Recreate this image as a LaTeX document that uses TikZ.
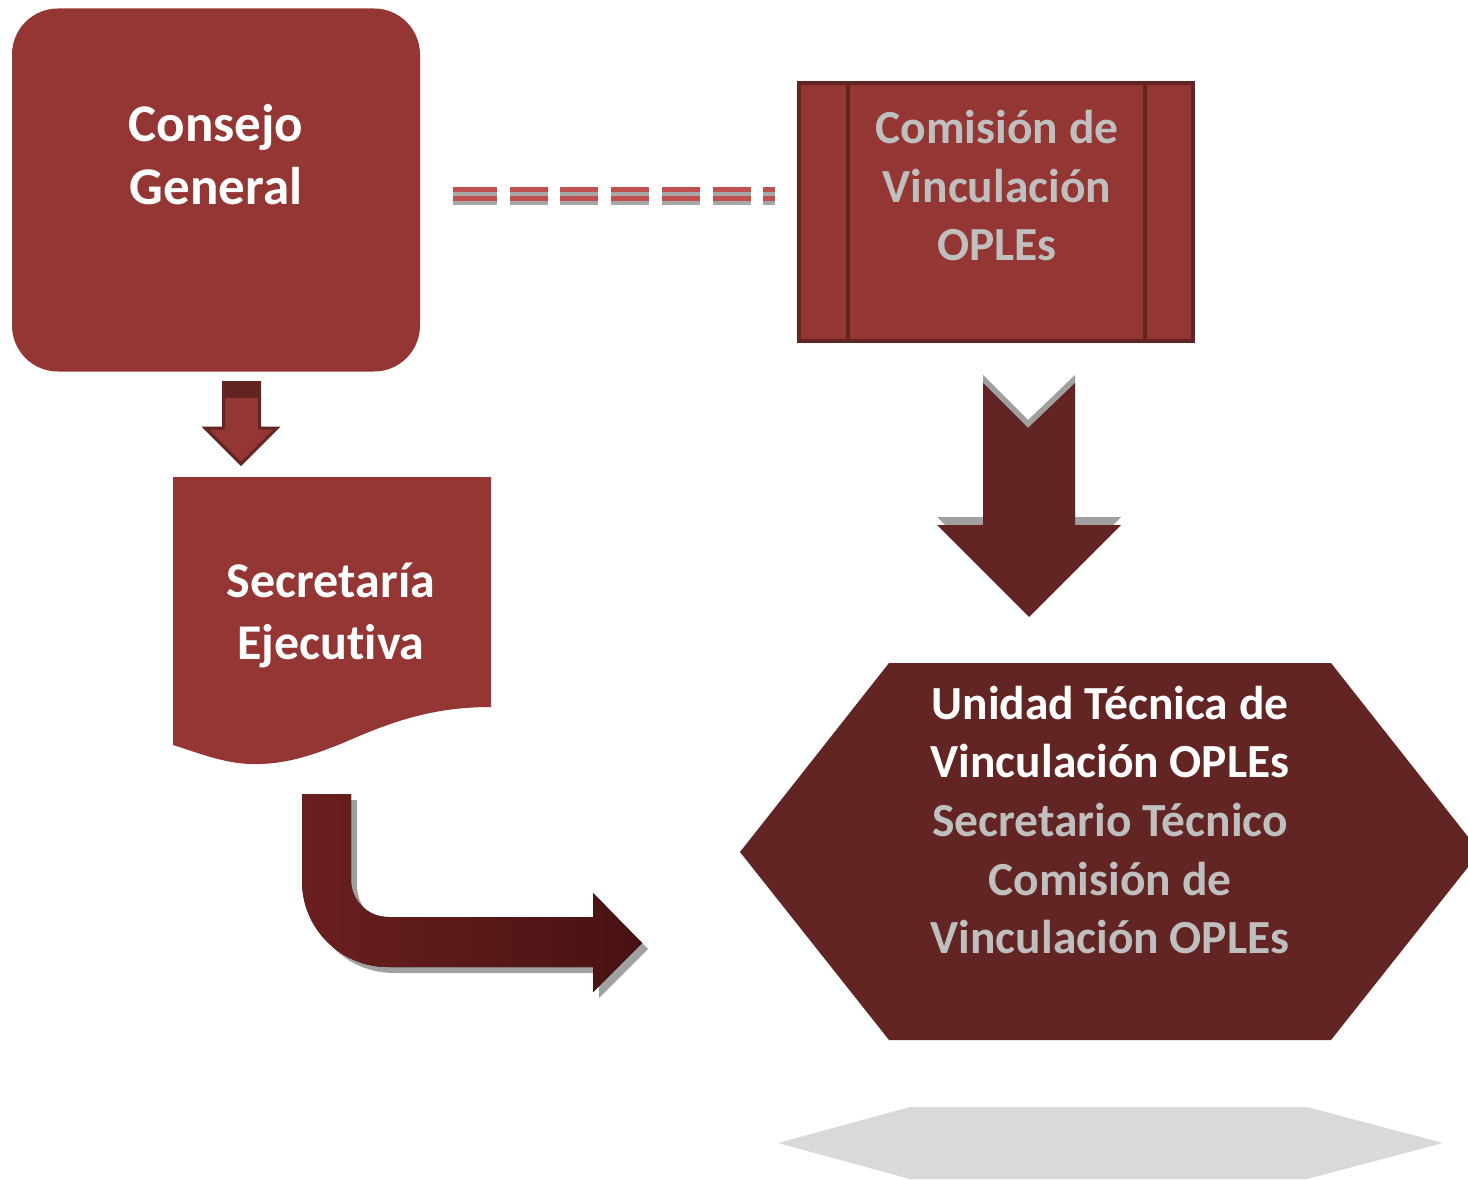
\documentclass[tikz,border=0pt]{standalone}
\usepackage{fontspec}
\setmainfont{Carlito}[Ligatures=NoCommon]
\definecolor{redA}{HTML}{943634}
\definecolor{darkA}{HTML}{632523}
\definecolor{txtgray}{HTML}{BFBFBF}
\definecolor{dashred}{HTML}{C0504D}
\definecolor{dashgray}{HTML}{A6A6A6}
\definecolor{shadowgray}{HTML}{A0A0A0}
\definecolor{reflgray}{HTML}{D9D9D9}
\definecolor{bentL}{RGB}{106,31,31}
\definecolor{bentR}{RGB}{72,18,18}
\begin{document}
\begin{tikzpicture}[x=1pt,y=-1pt,
  txtA/.style={align=center,text=white,font=\fontsize{53}{63}\selectfont\bfseries,inner sep=0pt},
  txtB/.style={align=center,text=white,font=\fontsize{50}{62}\selectfont\bfseries,inner sep=0pt},
  txtC/.style={align=center,font=\fontsize{47.5}{58.5}\selectfont\bfseries,inner sep=0pt},
  stripe/.style={line width=4.4pt,dash pattern=on 44pt off 13pt on 38pt off 12pt on 38pt off 13pt on 38pt off 13pt on 38pt off 13pt on 38pt off 12pt on 12pt off 200pt},
]
\useasboundingbox (0,0) rectangle (1468,1180);
\clip (0,0) rectangle (1468,1180);
\fill[white] (0,0) rectangle (1468,1180);

% Consejo General
\node[draw=none,fill=redA,rounded corners=46pt,minimum width=408pt,minimum height=363pt,inner sep=0pt] (consejo) at (216,190) {};
\node[txtA] (consejotxt) at (216,155) {Consejo\\General};

% dashed double connector
\coordinate (dashA) at (453,0);
\coordinate (dashB) at (776,0);
\draw[stripe,dashred] ([yshift=-189.5pt]dashA) -- ([yshift=-189.5pt]dashB);
\draw[stripe,dashgray] ([yshift=-194pt]dashA) -- ([yshift=-194pt]dashB);
\draw[stripe,dashred] ([yshift=-198.5pt]dashA) -- ([yshift=-198.5pt]dashB);
\draw[stripe,dashgray] ([yshift=-203pt]dashA) -- ([yshift=-203pt]dashB);

% Comision box
\node[fill=redA,draw=darkA,line width=4.5pt,minimum width=394pt,minimum height=258pt,inner sep=0pt] (comision) at (996,212) {};
\draw[darkA,line width=4.5pt] (848,83) -- (848,341);
\draw[darkA,line width=4.5pt] (1145,83) -- (1145,341);
\node[txtC,text=txtgray] (comisiontxt) at (997,186) {Comisión de\\Vinculación\\OPLEs};

% small down arrow
\filldraw[fill=redA,draw=darkA,line width=3pt,line join=miter]
  (223.5,382.5) -- (259.5,382.5) -- (259.5,428) -- (277,428) -- (241,464) -- (205,428) -- (223.5,428) -- cycle;
\fill[darkA] (222,381) rectangle (261,398);

% Secretaria document shape
\fill[redA] (173,477) -- (491,477) -- (491,707)
  .. controls (440,707) and (400,718) .. (350,740)
  .. controls (310,757) and (282,765) .. (250,764)
  .. controls (222,763) and (196,752) .. (173,745) -- cycle;
\node[txtB] (secretariatxt) at (331,615) {Secretaría\\Ejecutiva};

% big down arrow with shadow
\fill[shadowgray] (983,375) -- (1028,420) -- (1075,375) -- (1075,517) -- (1121,517) -- (1029,609) -- (937,517) -- (983,517) -- cycle;
\fill[darkA] (983,383) -- (1028,428) -- (1075,383) -- (1075,525) -- (1121,525) -- (1029,617) -- (937,525) -- (983,525) -- cycle;

% bent arrow with shadow
\begin{scope}[shift={(6,6)}]
\fill[shadowgray] (302,794) -- (351,794) -- (351,880)
  .. controls (351,900.4) and (367.6,917) .. (388,917)
  -- (593,917) -- (593,893) -- (642,943) -- (593,992) -- (593,967) -- (388,967)
  .. controls (340.5,967) and (302,928.5) .. (302,881) -- cycle;
\end{scope}
\fill[left color=bentL,right color=bentR] (302,794) -- (351,794) -- (351,880)
  .. controls (351,900.4) and (367.6,917) .. (388,917)
  -- (593,917) -- (593,893) -- (642,943) -- (593,992) -- (593,967) -- (388,967)
  .. controls (340.5,967) and (302,928.5) .. (302,881) -- cycle;

% hexagon
\fill[darkA] (740,852) -- (889,663) -- (1331,663) -- (1480,852) -- (1331,1040) -- (889,1040) -- cycle;
\node[txtC,text=white] (unidadtxt) at (1110,732) {Unidad Técnica de\\Vinculación OPLEs};
\node[txtC,text=txtgray] (secretariotxt) at (1110,879) {Secretario Técnico\\Comisión de\\Vinculación OPLEs};

% reflection
\fill[reflgray] (778,1143) -- (910,1107) -- (1307,1107) -- (1443,1143) -- (1307,1179) -- (910,1179) -- cycle;
\end{tikzpicture}
\end{document}
